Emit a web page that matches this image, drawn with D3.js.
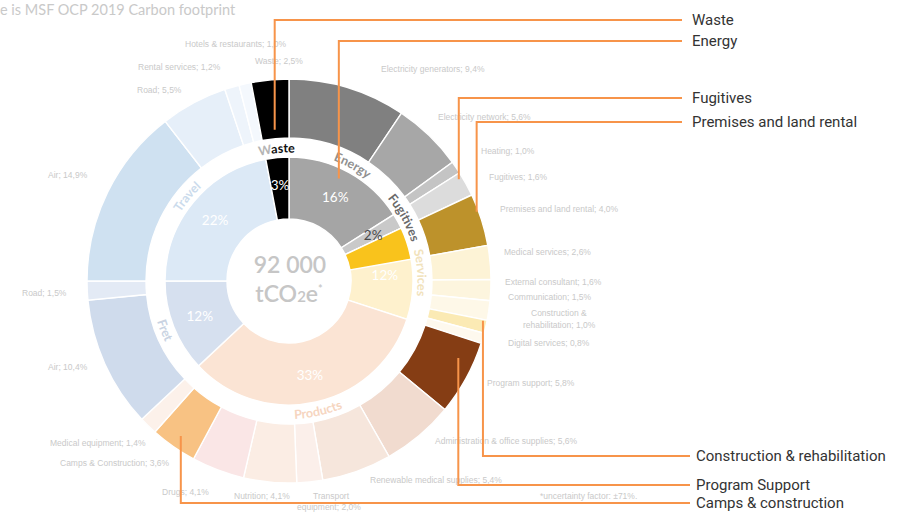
<!DOCTYPE html>
<html>
<head>
<meta charset="utf-8">
<script src="https://cdn.jsdelivr.net/npm/d3@7"></script>
<style>
  html, body { margin: 0; padding: 0; background: #ffffff; }
  svg { display: block; }
</style>
</head>
<body>
<svg id="chart" width="918" height="512"></svg>
<script>
// ---- Data ----------------------------------------------------------------
const title = "e is MSF OCP 2019 Carbon footprint";
const totalValue = "92 000";
const footnote = "*uncertainty factor: \u00b171%.";

// Inner ring: emission categories, share of total footprint (%)
const categories    = ["Energy", "Fugitives", "Services", "Products", "Fret", "Travel", "Waste"];
const categoryShare = [16, 2, 12, 33, 12, 22, 3];

// Outer ring: emission sources inside each category (% of total)
const subNames = [
  "Electricity generators", "Electricity network", "Heating",
  "Fugitives",
  "Premises and land rental", "Medical services", "External consultant", "Communication",
  "Construction & rehabilitation", "Digital services",
  "Program support", "Administration & office supplies", "Renewable medical supplies",
  "Transport equipment", "Nutrition", "Drugs", "Camps & Construction", "Medical equipment",
  "Air", "Road",
  "Air", "Road", "Rental services", "Hotels & restaurants",
  "Waste"
];
const subParent = [
  "Energy", "Energy", "Energy",
  "Fugitives",
  "Services", "Services", "Services", "Services", "Services", "Services",
  "Products", "Products", "Products", "Products", "Products", "Products", "Products", "Products",
  "Fret", "Fret",
  "Travel", "Travel", "Travel", "Travel",
  "Waste"
];
const subValues = [
  9.4, 5.6, 1.0,
  1.6,
  4.0, 2.6, 1.6, 1.5, 1.0, 0.8,
  5.8, 5.6, 5.4, 2.0, 4.1, 4.1, 3.6, 1.4,
  10.4, 1.5,
  14.9, 5.5, 1.2, 1.0,
  2.5
];

// Highlighted sources, with the category or source each one points at
const calloutLabels  = ["Waste", "Energy", "Fugitives", "Premises and land rental",
                        "Construction & rehabilitation", "Program Support", "Camps & construction"];
const calloutTargets = ["Waste", "Energy", "Fugitives", "Premises and land rental",
                        "Construction & rehabilitation", "Program support", "Camps & Construction"];

// ---- Layout & style ------------------------------------------------------
const cx = 289, cy = 281;
const R = { hole: 62, inner: 124, band: 143, outer: 202 };

const innerColor = {
  Energy: "#a5a5a5", Fugitives: "#c9c9c9", Services: "#fef1cd", Products: "#fbe4d4",
  Fret: "#d6e0ef", Travel: "#dce9f6", Waste: "#000000"
};
const innerHighlight = "#f9c31c"; // premises share inside Services
const outerColors = [
  "#808080", "#a7a7a7", "#c4c4c4",
  "#dcdcdc",
  "#bd922b", "#fdf3d6", "#fdf5de", "#fef8e8", "#fbeab4", "#fef9ee",
  "#853d14", "#f1dbcf", "#f6e6dc", "#fbefea", "#fbede4", "#fae6e6", "#f8c283", "#fcf1ea",
  "#cfdbec", "#e3eaf5",
  "#cfe1f1", "#e6eff9", "#eef4fb", "#f4f8fd",
  "#000000"
];
const bandText = {
  Energy: "#8f8f8f", Fugitives: "#6a6a6a", Services: "#f1e2bb", Products: "#f6d5c0",
  Fret: "#c9d3e2", Travel: "#cbdbec"
};
// leader line anchors: ring, relative position in the arc, radius; then line y and ends
const calloutLayout = [
  { ring: "outer", t: 0.5,  r: 152, y: 20,  endX: 682, textX: 692 },
  { ring: "inner", t: 0.45, r: 114, y: 41,  endX: 682, textX: 692 },
  { ring: "outer", t: 0.2,  r: 198, y: 98,  endX: 682, textX: 692 },
  { ring: "outer", t: 0.33, r: 200, y: 122, endX: 682, textX: 692 },
  { ring: "outer", t: 0.1,  r: 198, y: 456, endX: 690, textX: 696 },
  { ring: "outer", t: 0.3,  r: 186, y: 485, endX: 690, textX: 696 },
  { ring: "outer", t: 0.5,  r: 189, y: 503, endX: 690, textX: 696 }
];
// faint source labels around the ring: [x, y] of first line, optional line split
const faintSpots = [
  [381, 72], [438, 120], [481, 154], [489, 180], [500, 212], [504, 255], [505, 285],
  [508, 300], [531, 316, 523, 328, "Construction &", "rehabilitation"], [508, 346],
  [487, 386], [435, 444], [370, 483], [313, 499, 297, 510, "Transport", "equipment"],
  [234, 499], [162, 495], [60, 466], [50, 446], [48, 370], [22, 296], [48, 178],
  [137, 93], [138, 70], [185, 47], [255, 64]
];

// ---- Geometry ------------------------------------------------------------
const TAU = 2 * Math.PI;
const shareTotal = d3.sum(categoryShare);
const angle = d3.scaleLinear().domain([0, shareTotal]).range([0, TAU]);

const catArcs = [];
let acc = 0;
categories.forEach((c, i) => {
  catArcs.push({ name: c, value: categoryShare[i], start: angle(acc), end: angle(acc + categoryShare[i]) });
  acc += categoryShare[i];
});
const catByName = new Map(catArcs.map(d => [d.name, d]));

// each source fills its category span in proportion to its value
const subArcs = [];
categories.forEach(c => {
  const parent = catByName.get(c);
  const idx = d3.range(subNames.length).filter(i => subParent[i] === c);
  const sum = d3.sum(idx, i => subValues[i]);
  const s = d3.scaleLinear().domain([0, sum]).range([parent.start, parent.end]);
  let a = 0;
  idx.forEach(i => {
    subArcs.push({ i, name: subNames[i], parent: c, value: subValues[i], start: s(a), end: s(a + subValues[i]) });
    a += subValues[i];
  });
});
subArcs.sort((a, b) => a.i - b.i);

const polar = (a, r) => [cx + r * Math.sin(a), cy - r * Math.cos(a)];

// ---- Drawing -------------------------------------------------------------
const svg = d3.select("#chart");

svg.append("text")
  .attr("x", 0).attr("y", 15)
  .attr("font-family", "Lato, 'Open Sans', sans-serif")
  .attr("font-size", 14.5)
  .attr("fill", "#c9c9c9")
  .text(title);

const g = svg.append("g").attr("transform", `translate(${cx},${cy})`);

const innerArc = d3.arc().innerRadius(R.hole).outerRadius(R.inner);
const outerArc = d3.arc().innerRadius(R.band).outerRadius(R.outer);

g.selectAll("path.outer").data(subArcs).join("path")
  .attr("class", "outer")
  .attr("d", d => outerArc({ startAngle: d.start, endAngle: d.end }))
  .attr("fill", d => outerColors[d.i])
  .attr("stroke", "#ffffff").attr("stroke-width", 1.4);

g.selectAll("path.inner").data(catArcs).join("path")
  .attr("class", "inner")
  .attr("d", d => innerArc({ startAngle: d.start, endAngle: d.end }))
  .attr("fill", d => innerColor[d.name])
  .attr("stroke", "#ffffff").attr("stroke-width", 1.4);

// premises share of the Services wedge, drawn bright
const premises = subArcs.find(d => d.name === "Premises and land rental");
g.append("path")
  .attr("d", innerArc({ startAngle: premises.start, endAngle: premises.end }))
  .attr("fill", innerHighlight)
  .attr("stroke", "#ffffff").attr("stroke-width", 1.4);

// percentage labels in the inner ring
g.selectAll("text.pct").data(catArcs).join("text")
  .attr("class", "pct")
  .attr("x", d => 96 * Math.sin((d.start + d.end) / 2))
  .attr("y", d => -96 * Math.cos((d.start + d.end) / 2))
  .attr("text-anchor", "middle")
  .attr("dominant-baseline", "central")
  .attr("font-family", "Lato, 'Open Sans', sans-serif")
  .attr("font-size", 13.5)
  .attr("fill", d => d.name === "Fugitives" ? "#4a4a4a" : "#ffffff")
  .text(d => d.value + "%");

// category names curved through the white band
const defs = svg.append("defs");
catArcs.forEach((d, k) => {
  const mid = (d.start + d.end) / 2;
  const deg = mid * 180 / Math.PI;
  const flip = deg > 100 && deg < 280;
  const half = Math.PI / 3;
  const r = flip ? 138 : 128.5;
  const a0 = mid - half, a1 = mid + half;
  const p0 = [r * Math.sin(a0), -r * Math.cos(a0)];
  const p1 = [r * Math.sin(a1), -r * Math.cos(a1)];
  const dPath = flip
    ? `M${p1[0]},${p1[1]} A${r},${r} 0 0 0 ${p0[0]},${p0[1]}`
    : `M${p0[0]},${p0[1]} A${r},${r} 0 0 1 ${p1[0]},${p1[1]}`;
  defs.append("path").attr("id", "band" + k).attr("d", dPath);

  const t = g.append("text")
    .attr("font-family", "Lato, 'Open Sans', sans-serif")
    .attr("font-size", 12.5)
    .attr("font-weight", 700);
  const tp = t.append("textPath")
    .attr("href", "#band" + k)
    .attr("startOffset", "50%")
    .attr("text-anchor", "middle");
  if (d.name === "Waste") {
    tp.attr("fill", "#111111")
      .html(`<tspan fill="#b5b5b5">${d.name.slice(0, 1)}</tspan>${d.name.slice(1)}`);
  } else {
    tp.attr("fill", bandText[d.name]).text(d.name);
  }
});

// total in the centre
const centre = g.append("g")
  .attr("font-family", "Lato, 'Open Sans', sans-serif")
  .attr("fill", "#c6c6c6")
  .attr("text-anchor", "middle");
centre.append("text").attr("x", 1).attr("y", -8)
  .attr("font-size", 23).attr("font-weight", 600).text(totalValue);
const unit = centre.append("text").attr("x", 0).attr("y", 21)
  .attr("font-size", 23).attr("font-weight", 600);
unit.append("tspan").text("tCO");
unit.append("tspan").attr("font-size", 15).text("2");
unit.append("tspan").text("e");
unit.append("tspan").attr("font-size", 11).attr("dy", -9).text("*");

// faint source labels
const fmt = v => d3.format(".1f")(v).replace(".", ",") + "%";
const faint = svg.append("g")
  .attr("font-family", "'Liberation Sans', Arial, sans-serif")
  .attr("font-size", 8.5)
  .attr("fill", "#c9c9c9");
subArcs.forEach(d => {
  const spot = faintSpots[d.i];
  if (spot.length > 2) {
    faint.append("text").attr("x", spot[0]).attr("y", spot[1]).text(spot[4]);
    faint.append("text").attr("x", spot[2]).attr("y", spot[3]).text(spot[5] + "; " + fmt(d.value));
  } else {
    faint.append("text").attr("x", spot[0]).attr("y", spot[1]).text(d.name + "; " + fmt(d.value));
  }
});
faint.append("text").attr("x", 540).attr("y", 499).text(footnote);

// callout leader lines and labels
const lines = svg.append("g");
calloutLabels.forEach((label, k) => {
  const L = calloutLayout[k];
  const target = L.ring === "inner"
    ? catByName.get(calloutTargets[k])
    : subArcs.find(d => d.name === calloutTargets[k]);
  const a = target.start + (target.end - target.start) * L.t;
  const [x0, y0] = polar(a, L.r);
  lines.append("path")
    .attr("d", `M${x0},${y0} V${L.y} H${L.endX}`)
    .attr("fill", "none")
    .attr("stroke", "#f7944a")
    .attr("stroke-width", 2);
  lines.append("text")
    .attr("x", L.textX).attr("y", L.y)
    .attr("dominant-baseline", "central")
    .attr("font-family", "Roboto, 'Open Sans', sans-serif")
    .attr("font-size", 15)
    .attr("fill", "#333333")
    .text(label);
});
</script>
</body>
</html>
